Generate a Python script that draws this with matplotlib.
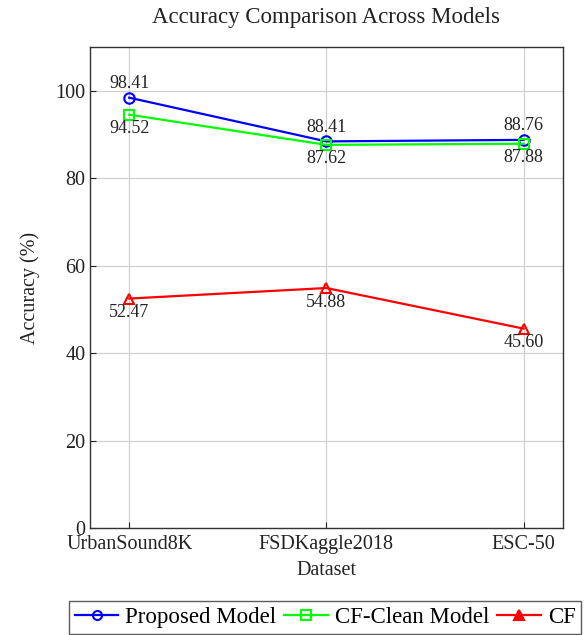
#required imports
import matplotlib
matplotlib.use("Agg")
import matplotlib.pyplot as plt
from matplotlib.lines import Line2D

# data
datasets = ["UrbanSound8K", "FSDKaggle2018", "ESC-50"]
proposed = [98.41, 88.41, 88.76]
cf_clean = [94.52, 87.62, 87.88]
cf = [52.47, 54.88, 45.60]

plt.rcParams["font.family"] = ["Liberation Serif", "DejaVu Serif"]

fig = plt.figure(figsize=(5.87, 6.35), dpi=100)
ax = fig.add_axes([0.153, 0.1685, 0.806, 0.7575])

x = list(range(len(datasets)))

series = [
    ("Proposed Model", proposed, "#0000ff", "o", "above"),
    ("CF-Clean Model", cf_clean, "#00ff00", "s", "below"),
    ("CF", cf, "#ff0000", "^", "below"),
]

handles = []
for name, vals, col, mk, where in series:
    ax.plot(x, vals, color=col, lw=1.6, marker=mk, markersize=7.5,
            markerfacecolor="none", markeredgecolor=col, markeredgewidth=1.5,
            zorder=3)
    for xi, v in zip(x, vals):
        dy = 4 if where == "above" else -4
        ax.annotate(f"{v:.2f}", (xi, v), xytext=(0, dy),
                    textcoords="offset points", ha="center",
                    va="bottom" if where == "above" else "top",
                    fontsize=13, color="#222222", zorder=4)
    # legend entry (triangle drawn filled like pgfplots)
    handles.append(Line2D([], [], color=col, lw=1.6, marker=mk, markersize=6.5,
                          markerfacecolor=col if mk == "^" else "none",
                          markeredgecolor=col, markeredgewidth=1.5,
                          label=name))

#axis limits and ticks
ax.set_xlim(-0.2, 2.2)
ax.set_ylim(0, 110)
ax.set_xticks(x)
ax.set_xticklabels(datasets)
ax.set_yticks([0, 20, 40, 60, 80, 100])
ax.tick_params(direction="in", labelsize=14.5, length=4, colors="#222222",
               pad=3)
ax.tick_params(axis="x", pad=5)
ax.grid(True, color="#d0d0d0", lw=0.9)
ax.set_axisbelow(True)
for sp in ax.spines.values():
    sp.set_color("#333333")
    sp.set_linewidth(1.0)

#add axis label
ax.set_xlabel("Dataset", fontsize=14.5, color="#222222", labelpad=5)
ax.set_ylabel("Accuracy (%)", fontsize=14.5, color="#222222", labelpad=11)

#title
fig.text(0.556, 0.973, "Accuracy Comparison Across Models", ha="center",
         va="center", fontsize=16.5, color="#222222")

#legend below the plot
leg = fig.legend(handles=handles, loc="upper center", ncol=3,
                 bbox_to_anchor=(0.554, 0.053), fontsize=16.5, frameon=True,
                 fancybox=False, handlelength=1.9, handletextpad=0.3,
                 columnspacing=0.35, borderpad=0.25, borderaxespad=0)
leg.get_frame().set_edgecolor("#333333")
leg.get_frame().set_linewidth(1.0)

fig.savefig("out.png", dpi=100)
